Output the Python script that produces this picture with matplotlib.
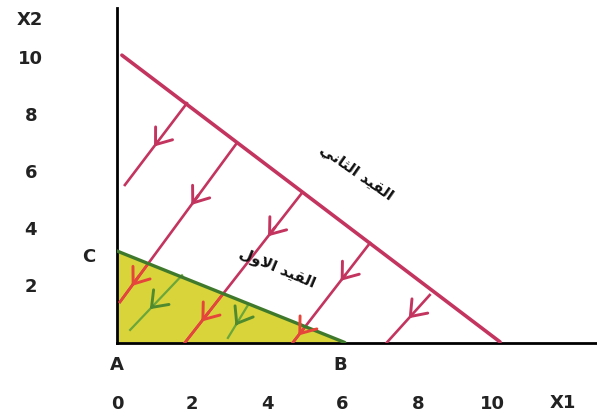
import matplotlib
matplotlib.use("Agg")
import matplotlib.pyplot as plt
from matplotlib.patches import Polygon

# ticks
x_ticks = [0, 2, 4, 6, 8, 10]
y_ticks = [2, 4, 6, 8, 10]

# constraint lines (end points)
c1_x = [0, 6.06]
c1_y = [3.2, 0]
c2_x = [0.13, 10.19]
c2_y = [10.05, 0.02]

# direction arrows from the second constraint downwards
arr_x0 = [1.86, 3.19, 4.92, 6.73, 8.32]
arr_y0 = [8.37, 6.98, 5.23, 3.48, 1.66]
arr_x1 = [0.21, 0.08, 1.81, 4.68, 7.18]
arr_y1 = [5.51, 1.42, 0.0, 0.0, 0.0]
# arrow heads: which line, fraction along it
head_line = [0, 1, 1, 2, 2, 3, 3, 4]
head_t = [0.53, 0.39, 0.90, 0.29, 0.86, 0.38, 0.93, 0.49]

# green arrows inside the feasible area
g_x0 = [1.73, 3.48]
g_y0 = [2.35, 1.30]
g_x1 = [0.35, 2.95]
g_y1 = [0.44, 0.16]
g_head_t = [0.62, 0.62]

label_c1 = "ﻝﻭﻻﺍ ﺪﻴﻘﻟﺍ"      # القيد الاول
label_c2 = "ﻲﻧﺎﺜﻟﺍ ﺪﻴﻘﻟﺍ"    # القيد الثاني

MAG = "#c3345f"
RED = "#e5453a"
YEL = "#d8d43a"
DGREEN = "#3f7a2c"
LGREEN = "#6aa63a"

fig = plt.figure(figsize=(5.97, 4.16), dpi=100)
ax = fig.add_axes([117 / 597, 73.5 / 416, 1 - 117 / 597, (416 - 8 - 73.5) / 416])
ax.set_xlim(0, 12.77)
ax.set_ylim(0, 11.7)

for s in ["top", "right"]:
    ax.spines[s].set_visible(False)
ax.spines["left"].set_linewidth(2.0)
ax.spines["bottom"].set_linewidth(2.0)

ax.set_xticks(x_ticks)
ax.set_yticks(y_ticks)
ax.tick_params(axis="both", length=0, labelsize=13)
ax.tick_params(axis="x", pad=38)
ax.tick_params(axis="y", pad=62)
for lab in ax.get_xticklabels() + ax.get_yticklabels():
    lab.set_fontweight("bold")
    lab.set_color("#222222")
for lab in ax.get_yticklabels():
    lab.set_ha("center")

# feasible region
tri = Polygon([(0, 0), (c1_x[0], c1_y[0]), (c1_x[1], c1_y[1])], closed=True,
              facecolor=YEL, edgecolor="none", zorder=1)
ax.add_patch(tri)
ax.plot(c1_x, c1_y, color=DGREEN, lw=2.4, zorder=4, solid_capstyle="round")
ax.plot(c2_x, c2_y, color=MAG, lw=2.6, zorder=4, solid_capstyle="round")

def inside(x, y):
    return y < c1_y[0] * (1 - x / c1_x[1])

for i in range(len(arr_x0)):
    xs = [arr_x0[i], arr_x1[i]]
    ys = [arr_y0[i], arr_y1[i]]
    ax.plot(xs, ys, color=MAG, lw=1.9, zorder=3)
    ln, = ax.plot(xs, ys, color=RED, lw=1.9, zorder=3.5)
    ln.set_clip_path(tri)

def head(x0, y0, x1, y1, t, color):
    tx = x0 + (x1 - x0) * t
    ty = y0 + (y1 - y0) * t
    bx = tx - (x1 - x0) * 0.06
    by = ty - (y1 - y0) * 0.06
    ax.annotate("", xy=(tx, ty), xytext=(bx, by),
                arrowprops=dict(arrowstyle="->,head_length=0.6,head_width=0.45",
                                color=color, lw=2.1, shrinkA=0, shrinkB=0,
                                mutation_scale=17), zorder=5)

for k, t in zip(head_line, head_t):
    x0, y0, x1, y1 = arr_x0[k], arr_y0[k], arr_x1[k], arr_y1[k]
    tx = x0 + (x1 - x0) * t
    ty = y0 + (y1 - y0) * t
    head(x0, y0, x1, y1, t, RED if inside(tx, ty) else MAG)

for i in range(len(g_x0)):
    ax.plot([g_x0[i], g_x1[i]], [g_y0[i], g_y1[i]], color=LGREEN, lw=1.6, zorder=3)
    head(g_x0[i], g_y0[i], g_x1[i], g_y1[i], g_head_t[i], "#4f8a2e")

# labels
txt = dict(fontsize=13, fontweight="bold", color="#222222", ha="center", va="center",
           clip_on=False)
ax.text(0, -0.79, "A", **txt)
ax.text(5.93, -0.79, "B", **txt)
ax.text(-0.74, 2.99, "C", **txt)
ax.text(-2.31, 11.28, "X2", **txt)
ax.text(11.86, -2.12, "X1", **txt)

ax.text(6.38, 5.93, label_c2, fontsize=11, fontweight="bold", color="#111111",
        rotation=-35, ha="center", va="center", family="DejaVu Sans")
ax.text(4.26, 2.60, label_c1, fontsize=11, fontweight="bold", color="#111111",
        rotation=-23, ha="center", va="center", family="DejaVu Sans")

fig.savefig("out.png", dpi=100)
